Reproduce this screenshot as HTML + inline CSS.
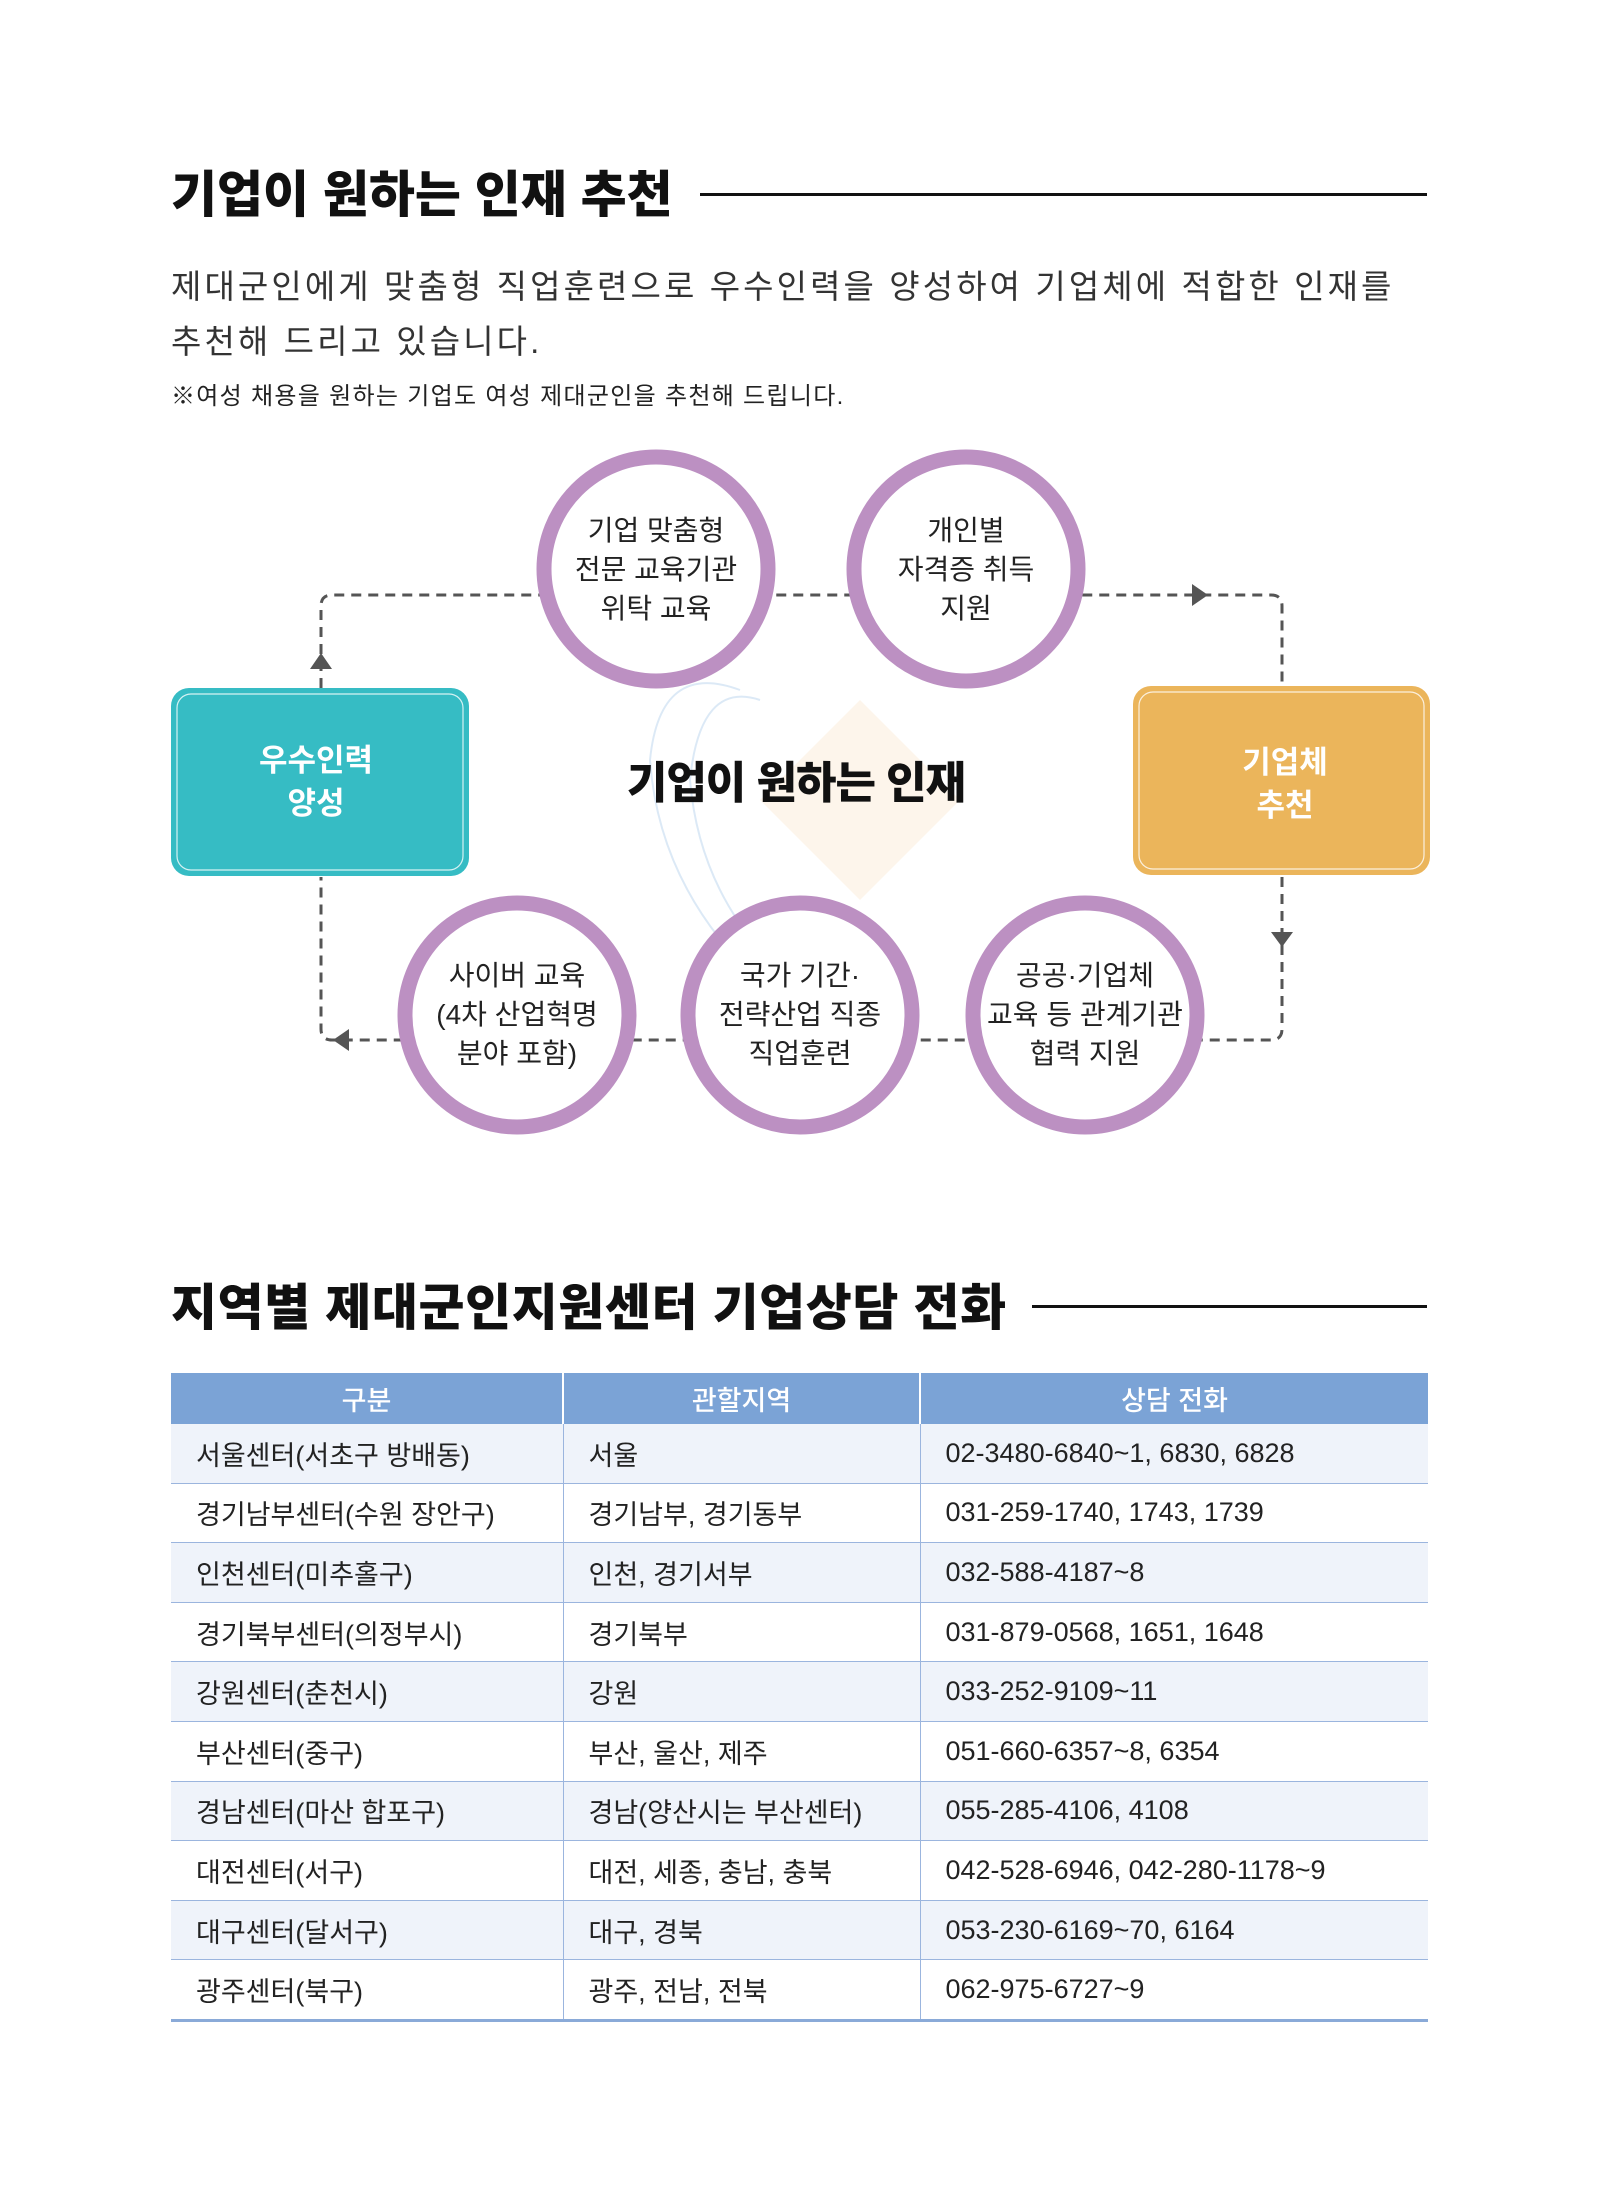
<!DOCTYPE html>
<html><head><meta charset="utf-8">
<style>
html,body{margin:0;padding:0;background:#fff;}
body{width:1599px;height:2187px;position:relative;overflow:hidden;font-family:"Liberation Sans","Noto Sans CJK KR",sans-serif;color:#222;}
.abs{position:absolute;white-space:nowrap;}
h1{position:absolute;margin:0;font-size:50px;font-weight:900;letter-spacing:0px;color:#111;line-height:1;}
.rule{position:absolute;height:3px;background:#111;}
table{position:absolute;left:171px;top:1373px;width:1257px;border-collapse:collapse;table-layout:fixed;font-size:27px;}
th{background:#7ba3d6;color:#fff;font-weight:500;height:51px;padding:0;border-right:2px solid #fff;}
th:last-child{border-right:none;}
td{height:58.6px;padding:0 0 0 25px;border-bottom:1.5px solid #9bb5de;border-right:1.5px solid #9bb5de;color:#222;}
td:last-child{border-right:none;}
tr:nth-child(even) td{background:#eff3fa;}
tr:last-child td{border-bottom:3px solid #8aaad8;}
</style></head><body>
<h1 style="left:171px;top:170px;">기업이 원하는 인재 추천</h1>
<div class="rule" style="left:700px;top:193px;width:727px;"></div>
<div class="abs" style="left:171px;top:260px;font-size:33px;letter-spacing:3.1px;color:#333;">제대군인에게 맞춤형 직업훈련으로 우수인력을 양성하여 기업체에 적합한 인재를</div>
<div class="abs" style="left:171px;top:315px;font-size:33px;letter-spacing:3.1px;color:#333;">추천해 드리고 있습니다.</div>
<div class="abs" style="left:171px;top:376px;font-size:24px;letter-spacing:1.3px;color:#222;">※여성 채용을 원하는 기업도 여성 제대군인을 추천해 드립니다.</div>

<svg class="abs" style="left:0;top:0;" width="1599" height="1200" viewBox="0 0 1599 1200">
<g fill="none" stroke="#555" stroke-width="3" stroke-dasharray="10 7">
<path d="M321 688 V606 Q321 595 332 595 H1271 Q1282 595 1282 606 V686"/>
<path d="M1282 877 V1029 Q1282 1040 1271 1040 H332 Q321 1040 321 1029 V877"/>
</g>
<g fill="#555">
<polygon points="1208,595 1192,584 1192,606"/>
<polygon points="1282,947 1271,932 1293,932"/>
<polygon points="321,653 310,669 332,669"/>
<polygon points="333,1040 349,1029 349,1051"/>
</g>
<g opacity="0.35" fill="none" stroke="#9cc3e6" stroke-width="2">
<path d="M740 690 Q660 660 650 760 Q660 900 780 1000"/>
<path d="M760 700 Q700 680 690 780 Q700 900 790 980"/>
</g>
<g opacity="0.18" fill="#f3c891"><polygon points="860,700 960,800 860,900 760,800"/></g>
<rect x="171" y="688" width="298" height="188" rx="18" fill="#36bcc4"/>
<rect x="177" y="694" width="286" height="176" rx="14" fill="none" stroke="#fff" stroke-width="1.2" opacity="0.8"/>
<rect x="1133" y="686" width="297" height="189" rx="18" fill="#ebb55b"/>
<rect x="1139" y="692" width="285" height="177" rx="14" fill="none" stroke="#fff" stroke-width="1.2" opacity="0.8"/>
<g fill="#fff" stroke="#bc90c2" stroke-width="15">
<circle cx="656" cy="569" r="112"/>
<circle cx="966" cy="569" r="112"/>
<circle cx="517" cy="1015" r="112"/>
<circle cx="800" cy="1015" r="112"/>
<circle cx="1085" cy="1015" r="112"/>
</g>
<g font-family="Liberation Sans, Noto Sans CJK KR, sans-serif" text-anchor="middle">
<g font-size="31" font-weight="700" fill="#fff">
<text x="316" y="771">우수인력</text><text x="316" y="814">양성</text>
<text x="1285" y="773">기업체</text><text x="1285" y="816">추천</text>
</g>
<text x="796" y="798" font-size="44" font-weight="900" fill="#111" letter-spacing="-1">기업이 원하는 인재</text>
<g font-size="28" fill="#222">
<text x="656" y="540">기업 맞춤형</text><text x="656" y="579">전문 교육기관</text><text x="656" y="618">위탁 교육</text>
<text x="966" y="540">개인별</text><text x="966" y="579">자격증 취득</text><text x="966" y="618">지원</text>
<text x="517" y="985">사이버 교육</text><text x="517" y="1024">(4차 산업혁명</text><text x="517" y="1063">분야 포함)</text>
<text x="800" y="985">국가 기간·</text><text x="800" y="1024">전략산업 직종</text><text x="800" y="1063">직업훈련</text>
<text x="1085" y="985">공공·기업체</text><text x="1085" y="1024">교육 등 관계기관</text><text x="1085" y="1063">협력 지원</text>
</g>
</g>
</svg>

<h1 style="left:171px;top:1283px;letter-spacing:0.6px;">지역별 제대군인지원센터 기업상담 전화</h1>
<div class="rule" style="left:1032px;top:1305px;width:395px;"></div>

<table>
<colgroup><col style="width:392px"><col style="width:357px"><col style="width:508px"></colgroup>
<tr><th>구분</th><th>관할지역</th><th>상담 전화</th></tr>
<tr><td>서울센터(서초구 방배동)</td><td>서울</td><td>02-3480-6840~1, 6830, 6828</td></tr>
<tr><td>경기남부센터(수원 장안구)</td><td>경기남부, 경기동부</td><td>031-259-1740, 1743, 1739</td></tr>
<tr><td>인천센터(미추홀구)</td><td>인천, 경기서부</td><td>032-588-4187~8</td></tr>
<tr><td>경기북부센터(의정부시)</td><td>경기북부</td><td>031-879-0568, 1651, 1648</td></tr>
<tr><td>강원센터(춘천시)</td><td>강원</td><td>033-252-9109~11</td></tr>
<tr><td>부산센터(중구)</td><td>부산, 울산, 제주</td><td>051-660-6357~8, 6354</td></tr>
<tr><td>경남센터(마산 합포구)</td><td>경남(양산시는 부산센터)</td><td>055-285-4106, 4108</td></tr>
<tr><td>대전센터(서구)</td><td>대전, 세종, 충남, 충북</td><td>042-528-6946, 042-280-1178~9</td></tr>
<tr><td>대구센터(달서구)</td><td>대구, 경북</td><td>053-230-6169~70, 6164</td></tr>
<tr><td>광주센터(북구)</td><td>광주, 전남, 전북</td><td>062-975-6727~9</td></tr>
</table>
</body></html>
